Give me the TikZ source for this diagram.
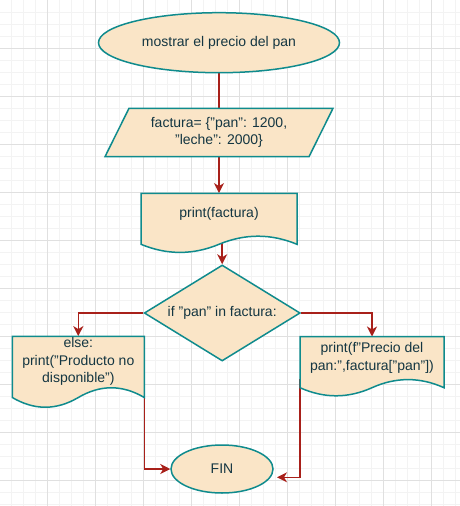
\documentclass[tikz,border=0pt]{standalone}
\usepackage{fontspec}
\setmainfont{Liberation Sans}
\usetikzlibrary{shapes.geometric,arrows.meta,calc}
\definecolor{shfill}{HTML}{FAE5C7}
\definecolor{shdraw}{HTML}{0F8B8D}
\definecolor{txtc}{HTML}{143642}
\definecolor{edgc}{HTML}{A8201A}
\definecolor{gridminor}{HTML}{F3F3F3}
\definecolor{gridmajor}{HTML}{E0E0E0}
\pgfdeclarelayer{gridlayer}
\pgfdeclarelayer{edgelayer}
\pgfsetlayers{gridlayer,edgelayer,main}
\newcommand\mydocshape[4]{% left, top, width, height
  \draw[shapeline] (#1,#2) -- ({#1+#3},#2) -- ({#1+#3},{#2+0.85*#4})
    .. controls ({#1+0.8333*#3},{#2+0.67*#4}) and ({#1+0.6667*#3},{#2+0.67*#4}) .. ({#1+0.5*#3},{#2+0.85*#4})
    .. controls ({#1+0.3333*#3},{#2+1.03*#4}) and ({#1+0.1667*#3},{#2+1.03*#4}) .. (#1,{#2+0.85*#4}) -- cycle;}
\begin{document}
\begin{tikzpicture}[x=1pt,y=-1pt,
  shapeline/.style={draw=shdraw, fill=shfill, line width=1.5pt},
  lbl/.style={text=txtc, font=\fontsize{14}{17.5}\selectfont, align=center, inner sep=0pt},
  term/.style={ellipse, shapeline, lbl},
  conn/.style={draw=edgc, line width=1.5pt},
  arr/.style={conn, -{Stealth[length=10pt,width=10pt,inset=3pt]}}]
\useasboundingbox (0,0) rectangle (460,506);
\begin{pgfonlayer}{gridlayer}
  \fill[white] (0,0) rectangle (460,506);
  \foreach \i in {1,...,38} \draw[gridminor, line width=1pt] ({12*\i-0.5},0) -- ({12*\i-0.5},506);
  \foreach \i in {1,...,42} \draw[gridminor, line width=1pt] (0,{12*\i}) -- (460,{12*\i});
  \foreach \i in {1,...,9} \draw[gridmajor, line width=1pt] ({48*\i-0.5},0) -- ({48*\i-0.5},506);
  \foreach \i in {1,...,10} \draw[gridmajor, line width=1pt] (0,{48*\i}) -- (460,{48*\i});
\end{pgfonlayer}

% start
\node[term, minimum width=241, minimum height=60] (start) at (219,42.7) {mostrar el precio del pan};
% parallelogram
\draw[shapeline] (129,108.3) -- (333,108.3) -- (309,156.7) -- (105,156.7) -- cycle;
\node[lbl, minimum width=204, minimum height=48.4] (fact) at (219,132.5) {factura= \{"pan": 1200,\\"leche": 2000\}};
% print(factura)
\mydocshape{141}{193.3}{156}{60}
\node[lbl, minimum width=156, minimum height=42] (docA) at (219,214.3) {print(factura)};
% decision
\node[diamond, shape aspect=1.625, shapeline, lbl, minimum width=156, minimum height=96] (dia) at (222.2,313) {if "pan" in factura:};
% else
\mydocshape{12.3}{336.3}{132}{72}
\node[lbl, minimum width=132, minimum height=50.4] (docL) at (78.3,361.5) {else:\\print("Producto no\\disponible")};
% right
\mydocshape{300}{336.7}{144}{60}
\node[lbl, minimum width=144, minimum height=42] (docR) at (372,357.7) {print(f"Precio del\\pan:",factura["pan"])};
% FIN
\node[term, minimum width=102, minimum height=48] (fin) at (222,469) {FIN};
\coordinate (finR) at (277,477.3);

\begin{pgfonlayer}{edgelayer}
  \draw[conn] (start.south) -- (fact.north);
  \draw[arr] (fact.south) -- (docA.north);
  \draw[arr] (docA.south -| dia.north) -- (dia.north);
  \draw[arr] (dia.west) -| (docL.north);
  \draw[arr] (dia.east) -| (docR.north);
  \draw[arr] (docL.south east) |- (fin.west);
  \draw[arr] (docR.south west) |- (finR);
\end{pgfonlayer}
\end{tikzpicture}
\end{document}
